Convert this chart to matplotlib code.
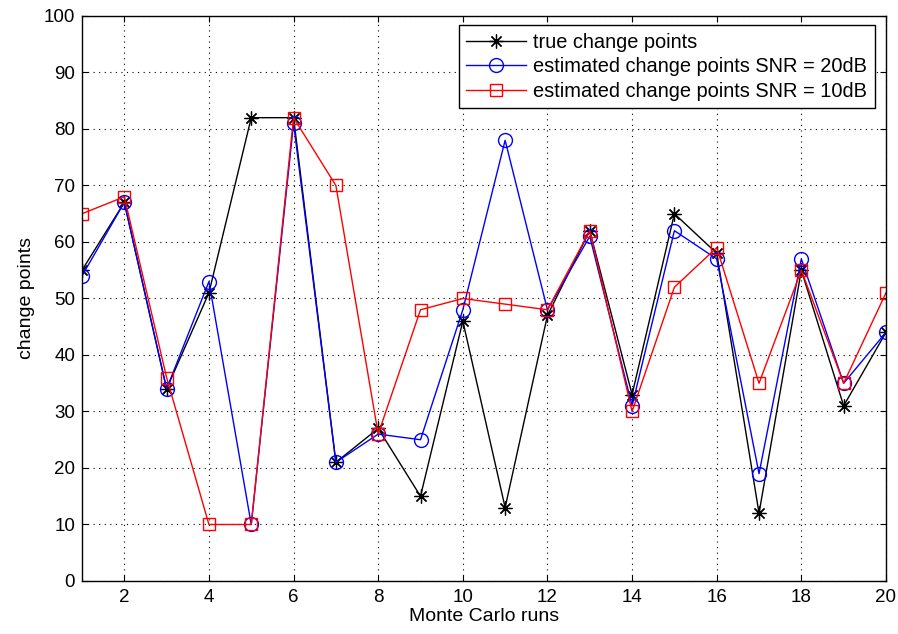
import matplotlib
matplotlib.use("Agg")
import matplotlib.pyplot as plt

plt.rcParams['font.family'] = ['Liberation Sans', 'DejaVu Sans']

# Monte Carlo run index and change point locations
runs = list(range(1, 21))
true_cp = [55, 67, 34, 51, 82, 82, 21, 27, 15, 46, 13, 47, 62, 33, 65, 58, 12, 55, 31, 44]
est_20db = [54, 67, 34, 53, 10, 81, 21, 26, 25, 48, 78, 48, 61, 31, 62, 57, 19, 57, 35, 44]
est_10db = [65, 68, 36, 10, 10, 82, 70, 26, 48, 50, 49, 48, 62, 30, 52, 59, 35, 55, 35, 51]

fig = plt.figure(figsize=(8.98, 6.34), dpi=100)
ax = fig.add_axes([0.0913, 0.0836, 0.8953, 0.8912])

# asterisk marker: 8 spokes, like + and x on top of each other
asterisk = (8, 2, 0)
ax.plot(runs, true_cp, color='black', marker=asterisk, markersize=10, mew=0.9,
        lw=1, label='true change points')
ax.plot(runs, est_20db, color='blue', marker='o', markersize=10, lw=1,
        mfc='none', label='estimated change points SNR = 20dB')
ax.plot(runs, est_10db, color='red', marker='s', markersize=9, lw=1,
        mfc='none', label='estimated change points SNR = 10dB')

ax.set_xlim(1, 20)
ax.set_ylim(0, 100)
ax.set_xticks(range(2, 21, 2))
ax.set_yticks(range(0, 101, 10))
ax.tick_params(direction='in', top=True, right=True, length=4, labelsize=13.5)
ax.tick_params(axis='x', pad=6)
ax.tick_params(axis='y', pad=5)
ax.grid(True, linestyle=(0, (1, 4)), color='black', lw=0.8)
for s in ax.spines.values():
    s.set_linewidth(1)

ax.set_xlabel('Monte Carlo runs', fontsize=14, labelpad=1)
ax.set_ylabel('change points', fontsize=14, labelpad=6)

leg = ax.legend(loc='upper right', bbox_to_anchor=(0.986, 0.984), fontsize=14.4,
                fancybox=False, edgecolor='black', framealpha=1,
                borderaxespad=0, handlelength=3.0, handletextpad=0.35,
                labelspacing=0.28, borderpad=0.38)
leg.get_frame().set_linewidth(1)

fig.savefig('out.png', dpi=100)
